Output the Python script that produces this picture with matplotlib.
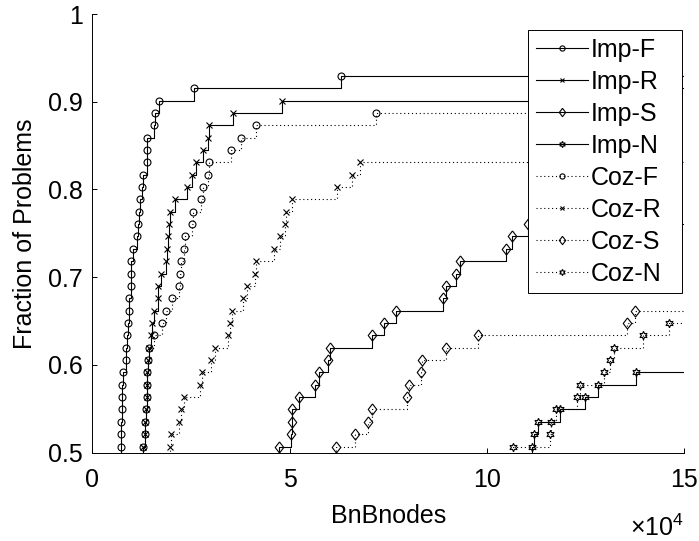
import numpy as np
import matplotlib
matplotlib.use('Agg')
import matplotlib.pyplot as plt
from matplotlib.ticker import FuncFormatter

plt.rcParams['font.family'] = ['Liberation Sans', 'DejaVu Sans']
plt.rcParams['mathtext.fontset'] = 'custom'
plt.rcParams['mathtext.rm'] = 'Liberation Sans'

# data: sorted BnB node counts of the solved problems, starting at rank 36
N_PROBLEMS = 71
FIRST_RANK = 36

imp_f = [7300, 7300, 7400, 7500, 7600, 7600, 7800, 8500, 8500, 8700, 9000,
         9200, 9300, 9700, 9800, 9800, 10400, 11400, 11700, 11800, 12200,
         12600, 12800, 13800, 13800, 13800, 15600, 15900, 16800, 25700, 63000]
imp_r = [12900, 13300, 13300, 13600, 13800, 13900, 13900, 14200, 14500,
         14900, 15200, 15700, 16600, 16700, 17400, 18800, 19000, 19200,
         19500, 19700, 21000, 23900, 25200, 26300, 28100, 29400, 29600,
         35600, 48000, 125000]
imp_s = [47400, 50300, 50500, 50500, 52400, 56400, 57500, 59800, 60200,
         71000, 73900, 76900, 88800, 89600, 92100, 93200, 104800, 106300,
         110500]
imp_n = [111300, 112000, 113000, 118500, 124800, 128200, 137700]
coz_f = [12900, 13300, 13300, 13600, 13800, 13900, 13900, 14200, 14500,
         15700, 17600, 18700, 20100, 22100, 22200, 22400, 23300, 23500,
         25200, 25600, 27500, 28100, 29200, 29600, 35100, 37800, 41400,
         71800]
coz_r = [19700, 20000, 22100, 22500, 23300, 27400, 27700, 30200, 31100,
         34300, 34900, 35500, 38300, 39100, 41200, 41400, 46000, 47500,
         48800, 49100, 50500, 62100, 65900, 67800]
coz_s = [61700, 66600, 69900, 71000, 79700, 80200, 83200, 83500, 89600,
         97800, 135400, 137500]
coz_n = [106700, 116000, 116200, 117500, 122700, 123600, 129600, 131100,
         132200, 139600, 146100]

labels = ['Imp-F', 'Imp-R', 'Imp-S', 'Imp-N', 'Coz-F', 'Coz-R', 'Coz-S', 'Coz-N']
series = [imp_f, imp_r, imp_s, imp_n, coz_f, coz_r, coz_s, coz_n]

diamond = [(0, 1), (0.77, 0), (0, -1), (-0.77, 0), (0, 1)]
hexagram = (6, 1, 0)
marker_styles = [('o', 5), ('x', 4.5), (diamond, 8), (hexagram, 6)]
dotted = (0, (1, 2.5))

X_END = 160000

fig = plt.figure(figsize=(6.99, 5.41), dpi=100)
ax = fig.add_axes([0.132, 0.1632, 0.8469, 0.8109])

for i, (name, xs) in enumerate(zip(labels, series)):
    xs = np.asarray(xs, dtype=float)
    ranks = np.arange(FIRST_RANK, FIRST_RANK + len(xs))
    # extend one rank below the cut and past the right edge
    x = np.r_[xs[0], xs, X_END]
    y = np.r_[FIRST_RANK - 1, ranks, ranks[-1]] / N_PROBLEMS
    m, ms = marker_styles[i % 4]
    ls = '-' if i < 4 else dotted
    ax.plot(x, y, drawstyle='steps-post', color='black', linestyle=ls,
            linewidth=0.8, marker=m, markersize=ms, markerfacecolor='none',
            markeredgecolor='black', markeredgewidth=0.8, label=name)

ax.set_xlim(0, 150000)
ax.set_ylim(0.5, 1.0)
ax.set_xticks([0, 50000, 100000, 150000])
ax.set_yticks([0.5, 0.6, 0.7, 0.8, 0.9, 1.0])
ax.xaxis.set_major_formatter(FuncFormatter(lambda v, _: f'{v / 1e4:g}'))
ax.yaxis.set_major_formatter(FuncFormatter(lambda v, _: f'{v:g}'))
ax.tick_params(direction='in', length=3.6, width=0.7, labelsize=18)
ax.tick_params(axis='x', pad=11)
ax.tick_params(axis='y', pad=7)
for side in ['top', 'right']:
    ax.spines[side].set_visible(False)
for side in ['left', 'bottom']:
    ax.spines[side].set_linewidth(0.7)

ax.set_xlabel('BnBnodes', fontsize=18, labelpad=9)
ax.set_ylabel('Fraction of Problems', fontsize=18, labelpad=8)
ax.text(1.0, -0.142, r'$\times\mathregular{10^{4}}$', transform=ax.transAxes,
        ha='right', va='top', fontsize=18)

leg = ax.legend(loc='upper left', bbox_to_anchor=(0.7365, 0.3754, 0.2591, 0.588),
                mode='expand', fontsize=18, fancybox=False, framealpha=1,
                edgecolor='black', handlelength=2.1, handletextpad=0.1,
                labelspacing=0.32, borderpad=0.3, borderaxespad=0,
                markerscale=0.75)
leg.get_frame().set_linewidth(0.7)

fig.savefig('out.png', dpi=100)
